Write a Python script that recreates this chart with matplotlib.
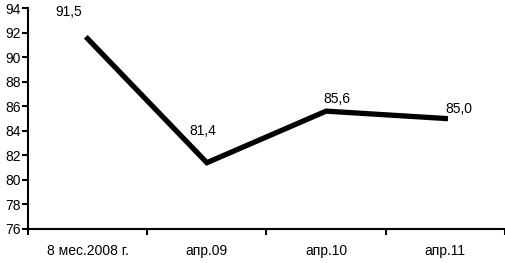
import matplotlib
matplotlib.use("Agg")
import matplotlib.pyplot as plt

categories = ["8 мес.2008 г.", "апр.09", "апр.10", "апр.11"]
values = [91.5, 81.4, 85.6, 85.0]
labels = ["91,5", "81,4", "85,6", "85,0"]

plt.rcParams['font.family'] = ['Liberation Sans Narrow', 'Liberation Sans', 'DejaVu Sans']

fig = plt.figure(figsize=(5.06, 2.63), dpi=100)
ax = fig.add_axes([28 / 506, 1 - 229 / 263, 477 / 506, 221 / 263])

x = range(len(categories))
ax.plot(x, values, color='black', lw=3.8, solid_joinstyle='miter')

# label offsets in points, relative to each data point
offsets = [(-4, 14), (-3, 18), (-2, 4), (0, 1.5)]
has = ['right', 'center', 'left', 'left']
for xi, v, t, off, ha in zip(x, values, labels, offsets, has):
    ax.annotate(t, (xi, v), xytext=off, textcoords='offset points',
                ha=ha, va='bottom', fontsize=10)

ax.set_xlim(-0.5, len(categories) - 0.5)
ax.set_ylim(76, 94)
ax.set_yticks(range(76, 95, 2))
ax.set_xticks([i - 0.5 for i in range(len(categories) + 1)])
ax.set_xticklabels([])
ax.set_xticks(list(x), minor=True)
ax.set_xticklabels(categories, minor=True)
ax.tick_params(axis='x', which='minor', length=0, pad=11, labelsize=10)
ax.tick_params(axis='x', which='major', length=4, width=1.5, direction='out')
ax.tick_params(axis='y', length=4, width=1.5, direction='out', pad=1, labelsize=10)

for s in ['top', 'right']:
    ax.spines[s].set_visible(False)
for s in ['left', 'bottom']:
    ax.spines[s].set_linewidth(1.5)

fig.savefig("out.png", dpi=100)
